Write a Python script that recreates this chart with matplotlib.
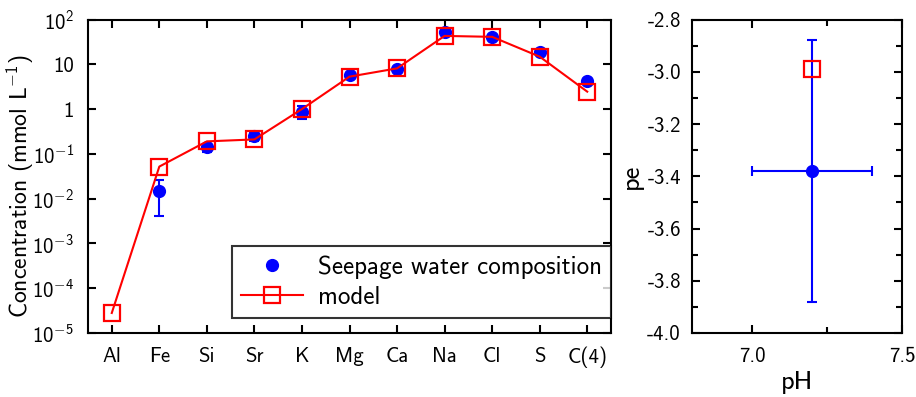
import numpy as np
import matplotlib
matplotlib.use("Agg")
import matplotlib.pyplot as plt
from matplotlib.ticker import FixedLocator, MultipleLocator, NullLocator, FormatStrFormatter

# ---- data ----
elements = ["Al", "Fe", "Si", "Sr", "K", "Mg", "Ca", "Na", "Cl", "S", "C(4)"]
seepage = [np.nan, 0.015, 0.14, 0.25, 0.87, 5.8, 7.7, 53, 40, 18.5, 4.2]
seepage_err = [0, 0.011, 0.03, 0.06, 0.28, 0.5, 0.6, 3, 3, 1.5, 0.4]
model = [2.8e-5, 0.052, 0.19, 0.21, 1.0, 5.3, 8.1, 43, 41, 14.8, 2.45]

ph_meas, ph_err = 7.2, 0.2
pe_meas, pe_err = -3.38, 0.5
ph_model, pe_model = 7.2, -2.99

ytick_vals = [1e-5, 1e-4, 1e-3, 1e-2, 1e-1, 1, 10, 100]
ytick_labels = [r"$10^{-5}$", r"$10^{-4}$", r"$10^{-3}$", r"$10^{-2}$", r"$10^{-1}$", "1", "10", r"$10^{2}$"]

plt.rcParams["font.family"] = ["cmss10", "DejaVu Sans"]
plt.rcParams["mathtext.fontset"] = "custom"
plt.rcParams["mathtext.rm"] = "cmss10"
plt.rcParams["mathtext.default"] = "rm"
plt.rcParams["axes.unicode_minus"] = False

fig = plt.figure(figsize=(9.16, 3.97), dpi=100)
W, H = 916, 397
ax = fig.add_axes([88 / W, 1 - 333 / H, (611 - 88) / W, (333 - 19.5) / H])
ax2 = fig.add_axes([692 / W, 1 - 333 / H, (902 - 692) / W, (333 - 19.5) / H])

blue = "#0000ff"
red = "#ff0000"
x = np.arange(len(elements))

ax.plot(x, model, color=red, lw=1.5, marker="s", ms=12, mfc="none", mec=red, mew=1.6,
        label="model", zorder=3)
ax.errorbar(x, seepage, yerr=seepage_err, fmt="none", ecolor=blue, elinewidth=1.5,
            capsize=3.5, capthick=1.5, zorder=2)
ax.plot(x, seepage, "o", color=blue, ms=8.5, ls="none",
        label="Seepage water composition", zorder=2)

ax.set_yscale("log")
ax.set_ylim(1e-5, 1e2)
ax.set_xlim(-0.5, len(elements) - 0.5)
ax.set_xticks(x)
ax.set_xticklabels(elements)
ax.yaxis.set_major_locator(FixedLocator(ytick_vals))
ax.set_yticklabels(ytick_labels)
ax.yaxis.set_minor_locator(NullLocator())
ax.set_ylabel(r"Concentration (mmol L$^{-1}$)", fontsize=17)
ax.yaxis.set_label_coords(-0.1, 0.47)

h, l = ax.get_legend_handles_labels()
leg = ax.legend(h[::-1], l[::-1], loc="lower right", bbox_to_anchor=(1.0, 0.048),
                fontsize=18, frameon=True, fancybox=False, borderpad=0.35,
                handlelength=2.5, handletextpad=0.6, labelspacing=0.3, borderaxespad=0)
leg.get_frame().set_edgecolor("black")
leg.get_frame().set_linewidth(1.5)

# right panel
ax2.errorbar([ph_meas], [pe_meas], xerr=[ph_err], yerr=[pe_err], fmt="o", color=blue,
             ms=8.5, elinewidth=1.5, capsize=3.5, capthick=1.5)
ax2.plot([ph_model], [pe_model], marker="s", ms=12, mfc="none", mec=red, mew=1.6, ls="none")
ax2.set_xlim(6.8, 7.5)
ax2.set_ylim(-4.0, -2.8)
ax2.xaxis.set_major_locator(FixedLocator([7.0, 7.5]))
ax2.xaxis.set_minor_locator(FixedLocator([7.25]))
ax2.yaxis.set_major_locator(MultipleLocator(0.2))
ax2.yaxis.set_minor_locator(MultipleLocator(0.1))
ax2.xaxis.set_major_formatter(FormatStrFormatter("%.1f"))
ax2.yaxis.set_major_formatter(FormatStrFormatter("%.1f"))
ax2.set_xlabel("pH", fontsize=19, labelpad=4)
ax2.set_ylabel("pe", fontsize=19)
ax2.yaxis.set_label_coords(-0.235, 0.5)

for a in (ax, ax2):
    for s in a.spines.values():
        s.set_linewidth(1.5)
    a.tick_params(which="both", direction="in", top=True, right=True, labelsize=15,
                  width=1.5)
    a.tick_params(which="major", length=6)
    a.tick_params(which="minor", length=4)
    a.tick_params(axis="x", which="major", pad=10)
    a.tick_params(axis="y", which="major", pad=8)
ax.tick_params(axis="y", which="major", pad=10)

fig.savefig("out.png", dpi=100)
